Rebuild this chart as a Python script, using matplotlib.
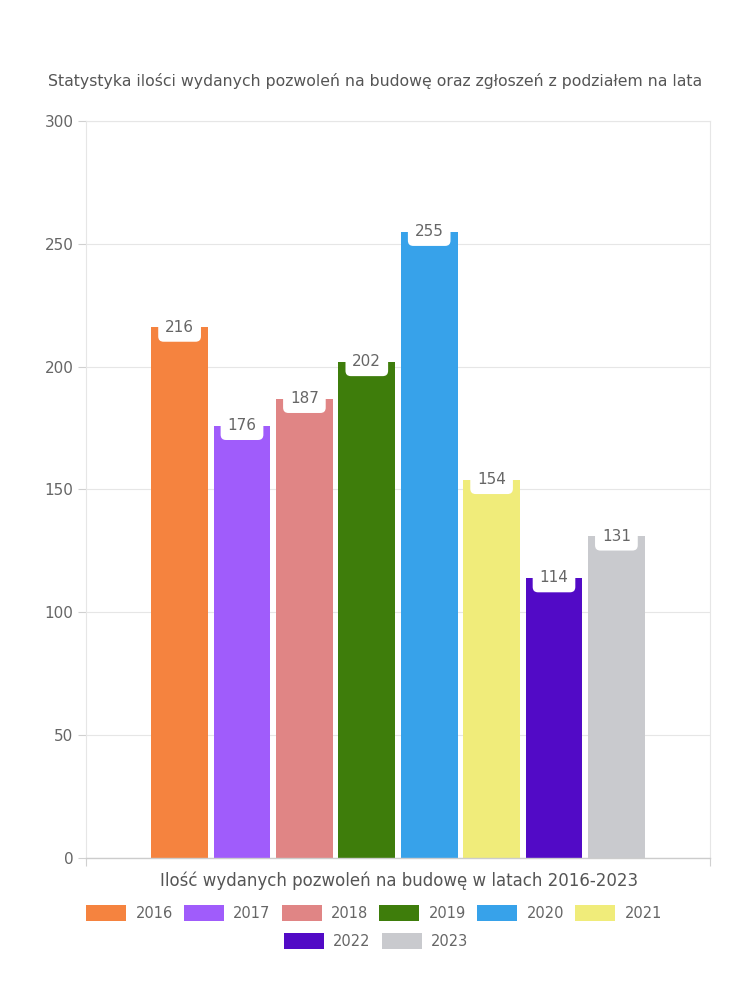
import matplotlib as mpl, numpy as np
import matplotlib.pyplot as plt

# Data
years = ['2016', '2017', '2018', '2019', '2020', '2021', '2022', '2023']
permits = [216, 176, 187, 202, 255, 154, 114, 131]
colors = ['#F5833F', '#A05CFB', '#E08585', '#3E7D0B', '#37A2EA', '#F0EC7A', '#520AC6', '#C9CACE']

title = 'Statystyka ilości wydanych pozwoleń na budowę oraz zgłoszeń z podziałem na lata'
xlabel = 'Ilość wydanych pozwoleń na budowę w latach 2016-2023'
yticks = [0, 50, 100, 150, 200, 250, 300]

plt.rcParams['font.family'] = ['DejaVu Sans']
txt = '#666666'
grid = '#e6e6e6'

fig = plt.figure(figsize=(7.5, 10), dpi=100)
ax = fig.add_axes([86/750, 142/1000, 624/750, 737/1000])

x = np.arange(len(years))
bars = ax.bar(x, permits, width=0.91, color=colors, zorder=2, label=years)

# Value labels in white rounded boxes at bar tops
for xi, v in zip(x, permits):
    ax.annotate(str(v), (xi, v), ha='center', va='center', fontsize=11, color=txt, zorder=3,
                bbox=dict(boxstyle='round,pad=0.45,rounding_size=0.35', fc='white', ec='none'))

ax.set_xlim(-1.5, 8.5)
ax.set_ylim(0, 300)
ax.set_yticks(yticks)
ax.set_xticks([-1.5, 8.5])
ax.set_xticklabels(['', ''])
ax.tick_params(axis='y', length=6, color='#d0d0d0', labelcolor=txt, labelsize=11, pad=3)
ax.tick_params(axis='x', length=6, color='#d0d0d0')
ax.yaxis.grid(True, color=grid, linewidth=0.8, zorder=0)
ax.set_axisbelow(True)
for s in ['left', 'right', 'top']:
    ax.spines[s].set_color(grid)
    ax.spines[s].set_linewidth(0.8)
ax.spines['bottom'].set_color('#cccccc')
ax.spines['bottom'].set_linewidth(1.0)

fig.text(375/750, 1 - 81/1000, title, ha='center', va='center', fontsize=11.3, color='#555555')
fig.text(399/750, 1 - 881/1000, xlabel, ha='center', va='center', fontsize=12, color='#555555')

# Legend in two centered rows
handles = list(bars)
kw = dict(frameon=False, fontsize=10.5, handlelength=2.75, handleheight=1.25, handletextpad=0.65,
          columnspacing=0.75, labelcolor=txt, borderaxespad=0, borderpad=0)
leg1 = fig.legend(handles[:6], years[:6], ncol=6, loc='center', bbox_to_anchor=(374/750, 1 - 913/1000), **kw)
leg2 = fig.legend(handles[6:], years[6:], ncol=2, loc='center', bbox_to_anchor=(376/750, 1 - 941/1000), **kw)

fig.savefig('out.png', dpi=100)
